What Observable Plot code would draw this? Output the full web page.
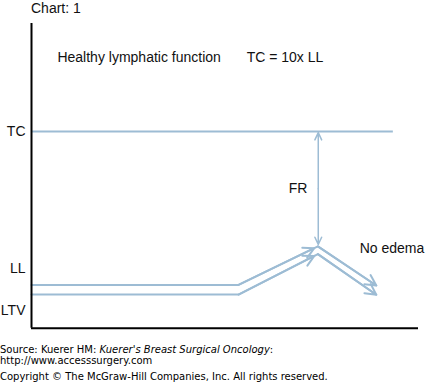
<!DOCTYPE html>
<html>
<head>
<meta charset="utf-8">
<script src="https://cdn.jsdelivr.net/npm/d3@7"></script>
<script src="https://cdn.jsdelivr.net/npm/@observablehq/plot@0.6"></script>
<style>
  html, body { margin: 0; padding: 0; background: #fff; }
  #wrap { width: 425px; height: 384px; overflow: hidden; position: relative; }
  #title { font: 14px "Liberation Sans", Arial, sans-serif; line-height: normal; height: 10px; padding-left: 31px; color: #111; white-space: nowrap; position: relative; z-index: 1; }
  #chart svg { display: block; }
  #caption { font: 10px "DejaVu Sans", Verdana, sans-serif; color: #000; white-space: nowrap; }
  #caption p { margin: 0; line-height: 11px; }
  #caption .l1 { margin-top: 7.5px; }
  #caption .l3 { margin-top: 5.6px; }
</style>
</head>
<body>
<div id="wrap">
  <div id="title">Chart: 1</div>
  <div id="chart"></div>
  <div id="caption">
    <p class="l1">Source: Kuerer HM: <i>Kuerer's Breast Surgical Oncology</i>:</p>
    <p>http://www.accesssurgery.com</p>
    <p class="l3">Copyright © The McGraw-Hill Companies, Inc. All rights reserved.</p>
  </div>
</div>
<script>
// ---- data ----
const pathX = [0, 53.5, 74, 89.1];          // flat start, rise start, peak, end
const llY = [22, 22, 41.6, 21.7];           // upper flow line
const ltvY = [17.1, 17.1, 37.7, 17.0];      // lower flow line
const tcLevel = [100];
const tcExtent = [0, 93.5];
const frX = [74.1];
const frEnds = [99.5, 42.6];
const frMid = [71];
const yTickValues = [9, 30.4, 100];
const yTickLabels = ["LTV", "LL", "TC"];
const startNotes = ["Healthy lymphatic function", "TC = 10x LL", "No edema"];
const startNoteX = [6.7, 55.6, 84.8];
const startNoteY = [137.7, 137.7, 40.5];
const endNotes = ["FR"];
const endNoteX = [71.3];
const endNoteY = [71.1];

// ---- derived tables ----
const series = [
  {name: "LL", ys: llY},
  {name: "LTV", ys: ltvY}
];
const linePts = series.flatMap(s => pathX.map((x, i) => ({series: s.name, x, y: s.ys[i]})));
const riseArrows = series.map(s => ({x1: pathX[1], y1: s.ys[1], x2: pathX[2], y2: s.ys[2]}));
const fallArrows = series.map(s => ({x1: pathX[2], y1: s.ys[2], x2: pathX[3], y2: s.ys[3]}));
const frArrows = frEnds.map(e => ({x1: frX[0], y1: frMid[0], x2: frX[0], y2: e}));
const startTable = startNotes.map((t, i) => ({text: t, x: startNoteX[i], y: startNoteY[i]}));
const endTable = endNotes.map((t, i) => ({text: t, x: endNoteX[i], y: endNoteY[i]}));

const blue = "#9dbcd4";
const font = '"Liberation Sans", Arial, sans-serif';

const chart = Plot.plot({
  width: 425,
  height: 326,
  marginLeft: 31,
  marginRight: 7,
  marginTop: 13,
  marginBottom: 8.3,
  style: {fontFamily: font, fontSize: "14px", color: "#111", background: "transparent"},
  x: {domain: [0, 100], axis: null},
  y: {domain: [0, 155]},
  marks: [
    Plot.axisY({ticks: yTickValues, tickFormat: (d, i) => yTickLabels[i], tickSize: 0, tickPadding: 6, fontSize: 14, label: null}),
    Plot.ruleY(tcLevel, {x1: tcExtent[0], x2: tcExtent[1], stroke: blue, strokeWidth: 2}),
    Plot.line(linePts, {x: "x", y: "y", z: "series", stroke: blue, strokeWidth: 2, strokeLinejoin: "miter"}),
    Plot.arrow(riseArrows, {x1: "x1", y1: "y1", x2: "x2", y2: "y2", stroke: blue, strokeWidth: 2, headLength: 9, headAngle: 55, insetEnd: 4}),
    Plot.arrow(fallArrows, {x1: "x1", y1: "y1", x2: "x2", y2: "y2", stroke: blue, strokeWidth: 2, headLength: 9, headAngle: 55}),
    Plot.arrow(frArrows, {x1: "x1", y1: "y1", x2: "x2", y2: "y2", stroke: blue, strokeWidth: 1.5, headLength: 8, headAngle: 50}),
    Plot.text(startTable, {x: "x", y: "y", text: "text", textAnchor: "start", fill: "#111", fontSize: 14}),
    Plot.text(endTable, {x: "x", y: "y", text: "text", textAnchor: "end", fill: "#111", fontSize: 14}),
    Plot.ruleX([0], {stroke: "#000", strokeWidth: 2}),
    Plot.ruleY([0], {stroke: "#000", strokeWidth: 2})
  ]
});
document.getElementById("chart").appendChild(chart);
</script>
</body>
</html>
